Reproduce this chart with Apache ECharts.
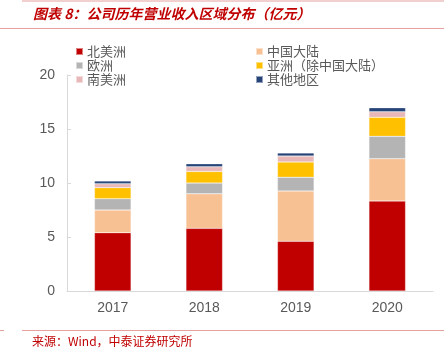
<!DOCTYPE html>
<html>
<head>
<meta charset="utf-8">
<script src="https://cdn.jsdelivr.net/npm/echarts@6/dist/echarts.min.js"></script>
<style>
html,body{margin:0;padding:0;background:#fff;}
#c{width:444px;height:361px;}
</style>
</head>
<body>
<div id="c"></div>
<script>
var categories = ['2017', '2018', '2019', '2020'];
var northAmerica = [5.40, 5.80, 4.60, 8.33];
var chinaMainland = [2.10, 3.20, 4.66, 3.92];
var europe = [1.05, 0.99, 1.27, 2.07];
var asiaExChina = [1.02, 1.08, 1.41, 1.76];
var southAmerica = [0.37, 0.43, 0.56, 0.52];
var others = [0.25, 0.28, 0.28, 0.37];
var yTicks = [0, 5, 10, 15, 20];

var names = ['北美洲', '中国大陆', '欧洲', '亚洲（除中国大陆）', '南美洲', '其他地区'];
var colors = ['#C00000', '#F8C194', '#B4B4B4', '#FFC000', '#E8B8B8', '#264478'];
var values = [northAmerica, chinaMainland, europe, asiaExChina, southAmerica, others];

var font = '"Noto Sans CJK SC", "Noto Sans", sans-serif';
var numFont = 'Arial, Helvetica, sans-serif';
var series = names.map(function (n, i) {
  return {
    name: n, type: 'bar', stack: 'total', barWidth: '40%',
    data: values[i],
    itemStyle: { color: colors[i], borderColor: 'rgba(255,255,255,0.5)', borderWidth: 0.5 }
  };
});

var legendCommon = {
  orient: 'vertical', itemWidth: 7, itemHeight: 7, itemGap: 1,
  icon: 'rect',
  textStyle: { color: '#595959', fontSize: 13, fontFamily: font, padding: [0, 0, 0, -1] }
};

var chart = echarts.init(document.getElementById('c'));
chart.setOption({
  animation: false,
  backgroundColor: '#fff',
  color: colors,
  legend: [
    Object.assign({ left: 70, top: 40, data: ['北美洲', '欧洲', '南美洲'] }, legendCommon),
    Object.assign({ left: 250, top: 40, data: ['中国大陆', '亚洲（除中国大陆）', '其他地区'] }, legendCommon)
  ],
  grid: { left: 67, right: 11, top: 75, bottom: 70 },
  xAxis: {
    type: 'category', data: categories,
    axisLine: { lineStyle: { color: '#d9d9d9' } },
    axisTick: { inside: true, length: 4, lineStyle: { color: '#d9d9d9' } },
    axisLabel: { color: '#595959', fontSize: 14, margin: 10, fontFamily: numFont }
  },
  yAxis: {
    type: 'value', min: yTicks[0], max: yTicks[yTicks.length - 1], interval: 5,
    axisLine: { show: true, lineStyle: { color: '#d9d9d9' } },
    axisTick: { show: true, inside: true, length: 4, lineStyle: { color: '#d9d9d9' } },
    splitLine: { show: false },
    axisLabel: { color: '#595959', fontSize: 14, margin: 12, fontFamily: numFont }
  },
  graphic: [
    { type: 'line', shape: { x1: 22, y1: 1, x2: 444, y2: 1 }, style: { stroke: '#E6A0A0', lineWidth: 1 } },
    { type: 'line', shape: { x1: 0, y1: 28.5, x2: 444, y2: 28.5 }, style: { stroke: '#E6A0A0', lineWidth: 1 } },
    { type: 'text', left: 33, top: 7, style: { text: '图表 8：公司历年营业收入区域分布（亿元）', fill: '#C00000', font: 'italic bold 14px ' + font } },
    { type: 'line', shape: { x1: 22, y1: 330.5, x2: 444, y2: 330.5 }, style: { stroke: '#E6A0A0', lineWidth: 1 } },
    { type: 'line', shape: { x1: 0, y1: 330.5, x2: 4, y2: 330.5 }, style: { stroke: '#E6A0A0', lineWidth: 1 } },
    { type: 'text', left: 32, top: 335, style: { text: '来源：Wind，中泰证券研究所', fill: '#C00000', font: '12px ' + font } }
  ],
  series: series
});
</script>
</body>
</html>
